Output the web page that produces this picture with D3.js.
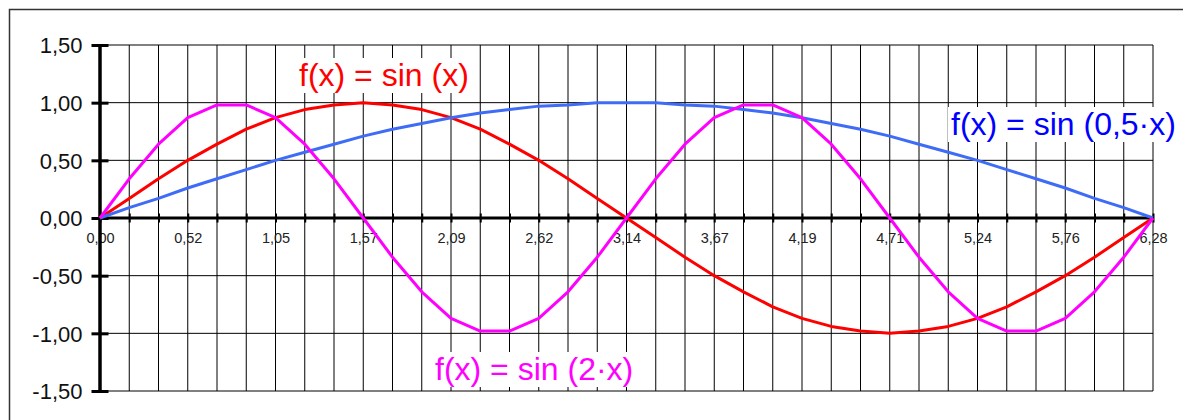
<!DOCTYPE html>
<html>
<head>
<meta charset="utf-8">
<script src="https://cdn.jsdelivr.net/npm/d3@7"></script>
<style>
  body { margin: 0; background: #fff; }
  svg { display: block; font-family: Arial, "Liberation Sans", sans-serif; }
</style>
</head>
<body>
<svg id="chart" width="1183" height="420"></svg>
<script>
// x categories (radians, 10 degree steps)
const xValues = [0.00, 0.17, 0.35, 0.52, 0.70, 0.87, 1.05, 1.22, 1.40, 1.57, 1.75, 1.92,
  2.09, 2.27, 2.44, 2.62, 2.79, 2.97, 3.14, 3.32, 3.49, 3.67, 3.84, 4.01, 4.19, 4.36,
  4.54, 4.71, 4.89, 5.06, 5.24, 5.41, 5.59, 5.76, 5.93, 6.11, 6.28];

const sinX = [0.00, 0.17, 0.34, 0.50, 0.64, 0.77, 0.87, 0.94, 0.98, 1.00, 0.98, 0.94,
  0.87, 0.77, 0.64, 0.50, 0.34, 0.17, 0.00, -0.17, -0.34, -0.50, -0.64, -0.77, -0.87,
  -0.94, -0.98, -1.00, -0.98, -0.94, -0.87, -0.77, -0.64, -0.50, -0.34, -0.17, 0.00];

const sinHalfX = [0.00, 0.09, 0.17, 0.26, 0.34, 0.42, 0.50, 0.57, 0.64, 0.71, 0.77, 0.82,
  0.87, 0.91, 0.94, 0.97, 0.98, 1.00, 1.00, 1.00, 0.98, 0.97, 0.94, 0.91, 0.87, 0.82,
  0.77, 0.71, 0.64, 0.57, 0.50, 0.42, 0.34, 0.26, 0.17, 0.09, 0.00];

const sin2X = [0.00, 0.34, 0.64, 0.87, 0.98, 0.98, 0.87, 0.64, 0.34, 0.00, -0.34, -0.64,
  -0.87, -0.98, -0.98, -0.87, -0.64, -0.34, 0.00, 0.34, 0.64, 0.87, 0.98, 0.98, 0.87,
  0.64, 0.34, 0.00, -0.34, -0.64, -0.87, -0.98, -0.98, -0.87, -0.64, -0.34, 0.00];

const yTicks = [-1.5, -1.0, -0.5, 0, 0.5, 1.0, 1.5];
const xLabelValues = xValues.filter((d, i) => i % 3 === 0);

const series = [
  { name: "f(x) = sin (x)", values: sinX, line: "#ff0000", text: "#ff0000", lx: 299, ly: 86 },
  { name: "f(x) = sin (0,5·x)", values: sinHalfX, line: "#3f6cf7", text: "#0000ff", lx: 951, ly: 135 },
  { name: "f(x) = sin (2·x)", values: sin2X, line: "#ff00ff", text: "#ff00ff", lx: 435, ly: 380 }
];

const svg = d3.select("#chart");
const plotLeft = 100, plotRight = 1153, plotTop = 45, plotBottom = 391;

const locale = d3.formatLocale({ decimal: ",", thousands: ".", grouping: [3], currency: ["", ""], minus: "-" });
const fmt = locale.format(".2f");

const x = d3.scalePoint().domain(xValues).range([plotLeft, plotRight]);
const y = d3.scaleLinear().domain([-1.5, 1.5]).range([plotBottom, plotTop]);

// outer frame
svg.append("rect")
  .attr("x", 9.5).attr("y", 9.5)
  .attr("width", 1190).attr("height", 430)
  .attr("fill", "none")
  .attr("stroke", "#333")
  .attr("stroke-width", 1.5);

// grid
const grid = svg.append("g");
grid.selectAll("line.v")
  .data(xValues)
  .enter().append("line")
  .attr("class", "v")
  .attr("x1", d => x(d)).attr("x2", d => x(d))
  .attr("y1", plotTop).attr("y2", plotBottom)
  .attr("stroke", "#000").attr("stroke-width", 1);

grid.selectAll("line.h")
  .data(yTicks)
  .enter().append("line")
  .attr("class", "h")
  .attr("x1", plotLeft).attr("x2", plotRight)
  .attr("y1", d => y(d)).attr("y2", d => y(d))
  .attr("stroke", "#000").attr("stroke-width", 1);

// x axis on the zero line, ticks crossing it
const xAxis = svg.append("g")
  .attr("transform", `translate(0,${y(0) - 4.5})`)
  .call(d3.axisBottom(x)
    .tickValues(xValues)
    .tickSize(9)
    .tickPadding(10.5)
    .tickFormat(d => xLabelValues.includes(d) ? fmt(d) : ""));
xAxis.select(".domain").remove();
xAxis.selectAll(".tick line").attr("stroke", "#000").attr("stroke-width", 2);
xAxis.selectAll(".tick text")
  .attr("fill", "#222")
  .style("font-size", "14.5px")
  .style("font-family", "Arial, 'Liberation Sans', sans-serif");

svg.append("line")
  .attr("x1", plotLeft).attr("x2", plotRight)
  .attr("y1", y(0)).attr("y2", y(0))
  .attr("stroke", "#000").attr("stroke-width", 3);

// y axis
const yAxis = svg.append("g")
  .attr("transform", `translate(${plotLeft + 8.5},0)`)
  .call(d3.axisLeft(y)
    .tickValues(yTicks)
    .tickSize(17)
    .tickPadding(9)
    .tickFormat(fmt));
yAxis.select(".domain").remove();
yAxis.selectAll(".tick line").attr("stroke", "#000").attr("stroke-width", 3);
yAxis.selectAll(".tick text")
  .attr("fill", "#111")
  .attr("dy", "0.36em")
  .style("font-size", "22px")
  .style("font-family", "Arial, 'Liberation Sans', sans-serif");

svg.append("line")
  .attr("x1", plotLeft).attr("x2", plotLeft)
  .attr("y1", plotTop).attr("y2", plotBottom)
  .attr("stroke", "#000").attr("stroke-width", 3.5);

// lines
const line = d3.line()
  .x((d, i) => x(xValues[i]))
  .y(d => y(d));

svg.selectAll("path.series")
  .data(series)
  .enter().append("path")
  .attr("class", "series")
  .attr("d", d => line(d.values))
  .attr("fill", "none")
  .attr("stroke", d => d.line)
  .attr("stroke-width", 3)
  .attr("stroke-linejoin", "round");

// labels with white boxes
series.forEach(s => {
  const g = svg.append("g");
  const bg = g.append("rect").attr("fill", "#fff");
  const t = g.append("text")
    .attr("x", s.lx).attr("y", s.ly)
    .attr("fill", s.text)
    .style("font-size", "32px")
    .text(s.name);
  const b = t.node().getBBox();
  bg.attr("x", b.x - 3).attr("y", b.y + 1)
    .attr("width", b.width + 6).attr("height", b.height - 1);
});
</script>
</body>
</html>
